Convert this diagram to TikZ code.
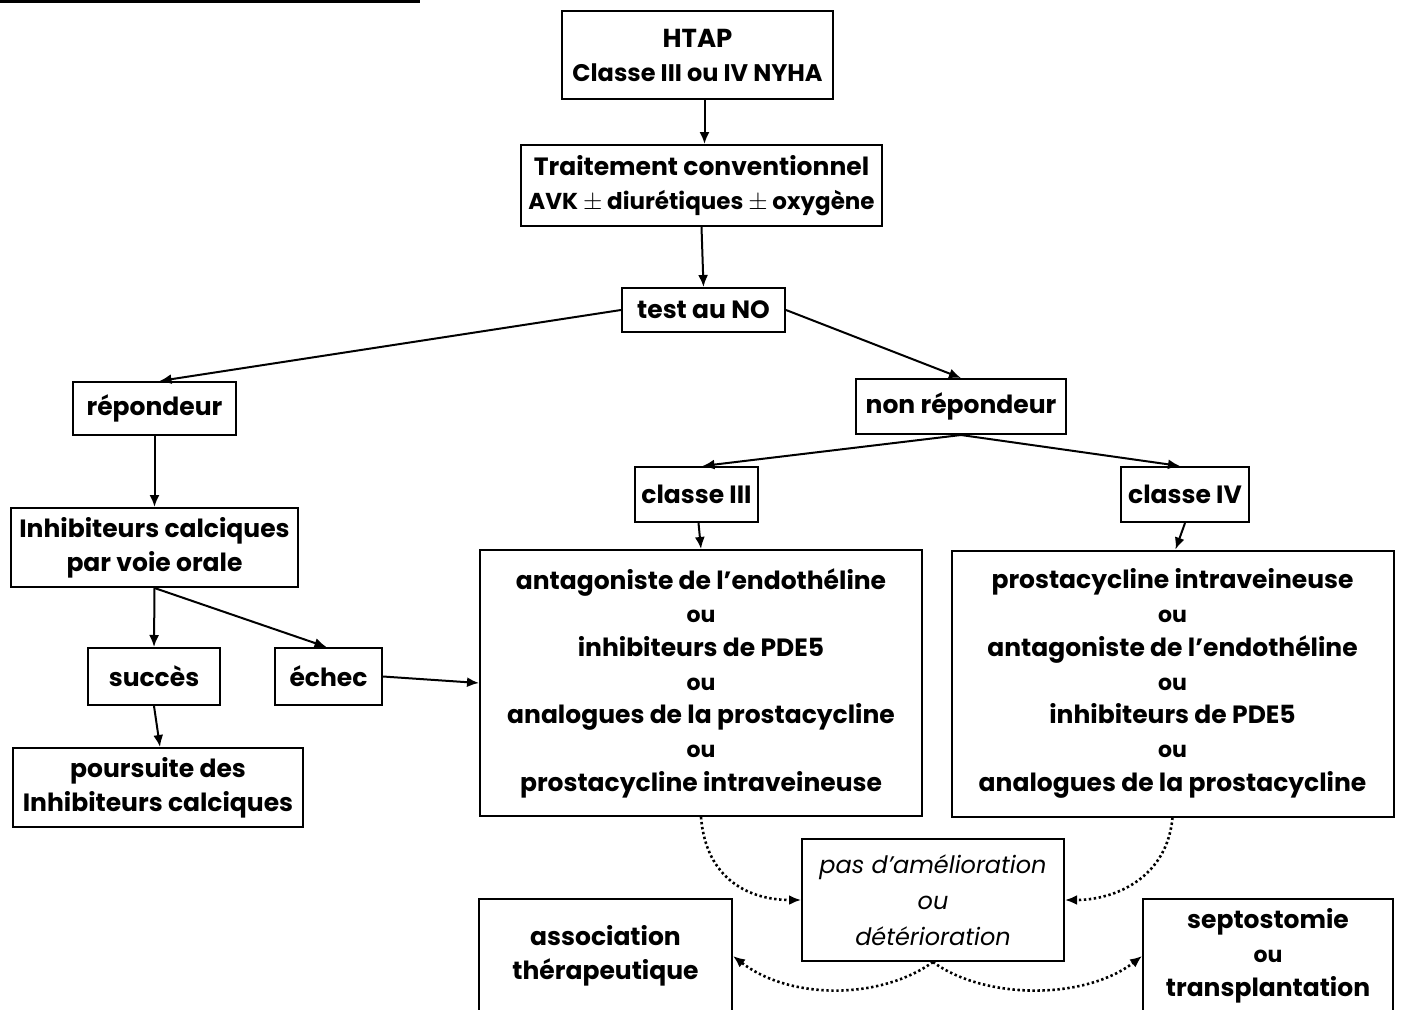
\documentclass[tikz,border=0pt]{standalone}
\usepackage{fontspec}
\setmainfont{Poppins}
\usetikzlibrary{arrows.meta, positioning, calc}

\newcommand{\ouline}{{\fontsize{22}{33.7}\selectfont ou}}

\begin{document}
\begin{tikzpicture}[x=1pt, y=-1pt,
      box/.style={draw, line width=2pt, inner sep=0pt, align=center,
                  font=\bfseries\fontsize{25}{34}\selectfont},
      bigbox/.style={box, minimum width=442pt, minimum height=266pt,
                  font=\bfseries\fontsize{25}{33.7}\selectfont},
      arr/.style={-{Latex[length=12pt,width=10pt]}, line width=2pt},
      dots/.style={-{Latex[length=12pt,width=10pt]}, line width=2.6pt,
                  dash pattern=on 2.4pt off 2.6pt}
    ]
    \useasboundingbox (0,0) rectangle (1402,1009);
    \clip (0,0) rectangle (1402,1009);
    \fill (0,0) rectangle (420,3);

    % top of the tree
    \node[box, minimum width=271pt, minimum height=88pt] (htap) at (697.5,55)
         {{\fontsize{26}{34}\selectfont HTAP}\\{\fontsize{24}{34}\selectfont Classe III ou IV NYHA}};
    \node[box, minimum width=361pt, minimum height=81pt] (trait) at (701.5,185.5)
         {Traitement conventionnel\\{\fontsize{23}{36}\selectfont AVK $\pm$ diurétiques $\pm$ oxygène}};
    \node[box, minimum width=163pt, minimum height=44pt] (test) at (703.5,310) {test au NO};

    % left branch
    \node[box, minimum width=163pt, minimum height=53pt] (rep) at (154.5,408.5) {répondeur};
    \node[box, minimum width=287pt, minimum height=79pt] (inhib) at (154.5,547.5)
         {Inhibiteurs calciques\\par voie orale};
    \node[box, minimum width=132pt, minimum height=57pt] (succ) at (154,676.5) {succès};
    \node[box, minimum width=107pt, minimum height=57pt] (echec) at (328.5,676.5) {échec};
    \node[box, minimum width=290pt, minimum height=79pt] (pours) at (158,787.5)
         {poursuite des\\Inhibiteurs calciques};

    % right branch
    \node[box, minimum width=210pt, minimum height=55pt] (nonrep) at (961,406.5) {non répondeur};
    \node[box, minimum width=123pt, minimum height=55pt] (cl3) at (696.5,494.5) {classe III};
    \node[box, minimum width=128pt, minimum height=55pt] (cl4) at (1185,494.5) {classe IV};
    \node[bigbox] (lbig) at (701,683)
         {antagoniste de l’endothéline\\\ouline\\inhibiteurs de PDE5\\\ouline\\
          analogues de la prostacycline\\\ouline\\prostacycline intraveineuse};
    \node[bigbox] (rbig) at (1172.5,683.5)
         {prostacycline intraveineuse\\\ouline\\antagoniste de l’endothéline\\\ouline\\
          inhibiteurs de PDE5\\\ouline\\analogues de la prostacycline};

    % bottom
    \node[box, minimum width=262pt, minimum height=122pt,
          font=\itshape\fontsize{24}{36}\selectfont] (pas) at (933,900)
         {pas d’amélioration\\ou\\détérioration};
    \node[box, minimum width=253pt, minimum height=114pt] (assoc) at (605.5,956)
         {association\\thérapeutique};
    \node[box, minimum width=250pt, minimum height=114pt] (sept) at (1268,956)
         {septostomie\\\ouline\\transplantation};

    \draw[arr] ([xshift=7pt]htap.south) -- ([xshift=7pt]htap.south |- trait.north);
    \draw[arr] (trait.south) -- (test.north);
    \draw[arr] (test.west) -- ([xshift=5pt]rep.north);
    \draw[arr] (test.east) -- (nonrep.north);
    \draw[arr] (nonrep.south) -- ([xshift=6pt]cl3.north);
    \draw[arr] (nonrep.south) -- ([xshift=-5pt]cl4.north);
    \draw[arr] (rep.south) -- (inhib.north);
    \draw[arr] (inhib.south) -- (succ.north);
    \draw[arr] (inhib.south) -- ([xshift=-2pt]echec.north);
    \draw[arr] (succ.south) -- ([xshift=2pt]pours.north);
    \draw[arr] (echec.east) -- (lbig.west);
    \draw[arr] ([xshift=2pt]cl3.south) -- (lbig.north);
    \draw[arr] (cl4.south) -- ([xshift=3pt]rbig.north);

    \draw[dots] (lbig.south) .. controls (706,880) and (750,900) .. (pas.west);
    \draw[dots] (rbig.south) .. controls (1167,878) and (1115,900) .. (pas.east);
    \draw[dots] (pas.south) .. controls (880,1000) and (790,1000) .. (assoc.east);
    \draw[dots] (pas.south) .. controls (985,1000) and (1085,1000) .. (sept.west);
  \end{tikzpicture}
\end{document}
